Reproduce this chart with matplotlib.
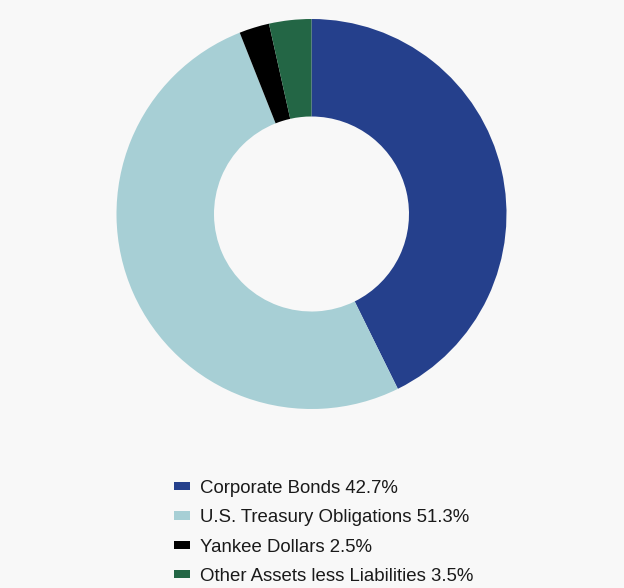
import matplotlib.pyplot as plt
from matplotlib.patches import Patch

plt.rcParams['font.family'] = ['Liberation Sans', 'DejaVu Sans']

categories = ["Corporate Bonds", "U.S. Treasury Obligations", "Yankee Dollars",
              "Other Assets less Liabilities"]
values = [42.7, 51.3, 2.5, 3.5]
colors = ["#25408c", "#a7cfd5", "#000000", "#236645"]
labels = [f"{c} {v}%" for c, v in zip(categories, values)]

W, H = 624, 588
fig = plt.figure(figsize=(W / 100, H / 100), dpi=100, facecolor="#f8f8f8")

# square axes holding the donut, placed in pixels
cx, cy, r = 311.5, 214, 195
ax = fig.add_axes([(cx - r) / W, (H - cy - r) / H, 2 * r / W, 2 * r / H])
ax.set_facecolor("#f8f8f8")
ax.pie(values, colors=colors, startangle=90, counterclock=False, radius=1,
       wedgeprops=dict(width=0.5, edgecolor="none"))
ax.set_xlim(-1, 1)
ax.set_ylim(-1, 1)
ax.set_aspect("equal")
ax.axis("off")

handles = [Patch(facecolor=c, edgecolor="none") for c in colors]
fig.legend(handles, labels, loc="upper left", bbox_to_anchor=(174 / W, 1 - 480 / H),
           frameon=False, fontsize=13.4, handlelength=0.86, handleheight=0.3,
           handletextpad=0.54, labelspacing=0.66, borderpad=0, borderaxespad=0,
           labelcolor="#1a1a1a")

fig.savefig("out.png", dpi=100, facecolor=fig.get_facecolor())
